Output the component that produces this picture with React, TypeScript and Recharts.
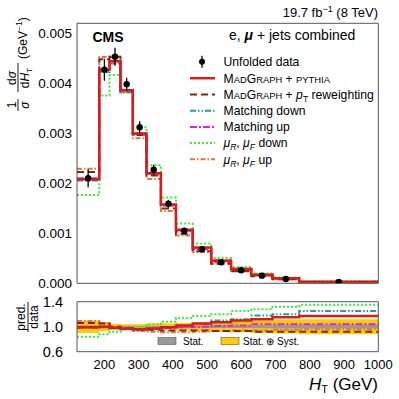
import React from 'react';
import { ComposedChart, Line, Area, Scatter, XAxis, YAxis, ErrorBar } from 'recharts';

// ---------- data ----------
const binEdges = [120, 185, 215, 247, 283, 323, 365, 409, 458, 512, 570, 629, 691, 769, 1000];
const dataValues = [0.0021, 0.00427, 0.00453, 0.00398, 0.00312, 0.00227, 0.00159, 0.00105, 0.00068, 0.00042, 0.00026, 0.000153, 0.000086, 0.000026];
const dataErrors = [0.00018, 0.00022, 0.00018, 0.00013, 0.00012, 0.0001, 0.00008, 0.00006, 0.00004, 0.00003, 0.00002, 0.000015, 0.00001, 0.000005];

// pred./data ratios
const ratioMadgraph = [0.99, 1.0, 0.98, 0.97, 0.96, 0.97, 0.99, 1.02, 1.05, 1.07, 1.1, 1.12, 1.15, 1.17];
const ratioPtReweight = [1.06, 1.05, 1.0, 0.97, 0.95, 0.95, 0.94, 0.94, 0.94, 0.93, 0.93, 0.92, 0.92, 0.92];
const ratioMatchDown = [0.98, 0.99, 0.97, 0.96, 0.95, 0.96, 0.98, 1.0, 1.04, 1.1, 1.12, 1.18, 1.2, 1.25];
const ratioMatchUp = [1.0, 1.0, 0.98, 0.97, 0.96, 0.97, 0.98, 0.99, 1.0, 1.01, 1.02, 1.04, 1.04, 1.04];
const ratioScaleDown = [0.84, 0.88, 0.92, 0.96, 1.0, 1.04, 1.08, 1.14, 1.17, 1.2, 1.25, 1.28, 1.32, 1.35];
const ratioScaleUp = [1.09, 1.06, 1.0, 0.96, 0.93, 0.92, 0.91, 0.91, 0.92, 0.93, 0.94, 0.94, 0.95, 0.96];

const statUnc = [0.02, 0.015, 0.012, 0.01, 0.01, 0.01, 0.012, 0.015, 0.015, 0.02, 0.02, 0.025, 0.03, 0.03];
const totalUnc = [0.1, 0.07, 0.045, 0.04, 0.04, 0.05, 0.05, 0.06, 0.07, 0.08, 0.09, 0.1, 0.11, 0.12];

// ticks
const xMajorTicks = [200, 300, 400, 500, 600, 700, 800, 900, 1000];
const xMinorTicks = Array.from({ length: 45 }, (_, i) => 120 + i * 20);
const topYMajorTicks = [0, 0.001, 0.002, 0.003, 0.004, 0.005];
const topYMinorTicks = Array.from({ length: 27 }, (_, i) => +(i * 0.0002).toFixed(4));
const ratioYLabelTicks = [0.6, 1.0, 1.4];
const ratioYMajorTicks = [0.6, 0.8, 1.0, 1.2, 1.4];
const ratioYMinorTicks = Array.from({ length: 17 }, (_, i) => +(0.6 + i * 0.05).toFixed(2));

// ---------- derived tables ----------
const nBins = dataValues.length;
const series = [
  { key: 'scaleDown', ratio: ratioScaleDown, color: '#33ee33', dash: '2 2', width: 2 },
  { key: 'scaleUp', ratio: ratioScaleUp, color: '#e3743a', dash: '5 2 1.5 2', width: 2 },
  { key: 'matchDown', ratio: ratioMatchDown, color: '#1f9ea3', dash: '6 2 1.5 2 1.5 2', width: 2 },
  { key: 'matchUp', ratio: ratioMatchUp, color: '#e020e0', dash: '7 2 2 2', width: 2 },
  { key: 'ptReweight', ratio: ratioPtReweight, color: '#7a2a18', dash: '7 4', width: 2 },
  { key: 'madgraph', ratio: ratioMadgraph, color: '#e01818', dash: undefined, width: 2.5 },
];

const topRows = binEdges.map((x, i) => {
  const k = Math.min(i, nBins - 1);
  const row: Record<string, number> = { x };
  series.forEach((s) => {
    row[s.key] = dataValues[k] * s.ratio[k];
  });
  return row;
});

const ratioRows = binEdges.map((x, i) => {
  const k = Math.min(i, nBins - 1);
  const row: Record<string, any> = { x };
  series.forEach((s) => {
    row[s.key] = s.ratio[k];
  });
  row.stat = [1 - statUnc[k], 1 + statUnc[k]];
  row.total = [1 - totalUnc[k], 1 + totalUnc[k]];
  return row;
});

const points = dataValues.map((v, i) => ({
  x: (binEdges[i] + binEdges[i + 1]) / 2,
  y: v,
  err: dataErrors[i],
}));

const FONT = "'Liberation Sans', Arial, Helvetica, sans-serif";
const AXIS = '#555';

const Dot = (p: any) => <circle cx={p.cx} cy={p.cy} r={3.2} fill="#000" />;

function frameAxes(xDomain: number[], yDomain: number[], yMajor: number[], yMinor: number[], big: number, small: number) {
  const common = { type: 'number' as const, allowDataOverflow: true, tick: false as const, mirror: true };
  return [
    <XAxis key="xb" xAxisId="xb" dataKey="x" orientation="bottom" domain={xDomain} ticks={xMajorTicks} tickSize={big} axisLine={{ stroke: AXIS }} tickLine={{ stroke: AXIS }} {...common} />,
    <XAxis key="xbm" xAxisId="xbm" dataKey="x" orientation="bottom" domain={xDomain} ticks={xMinorTicks} tickSize={small} axisLine={false} tickLine={{ stroke: AXIS }} {...common} />,
    <XAxis key="xt" xAxisId="xt" dataKey="x" orientation="top" domain={xDomain} ticks={xMajorTicks} tickSize={big} axisLine={{ stroke: AXIS }} tickLine={{ stroke: AXIS }} {...common} />,
    <XAxis key="xtm" xAxisId="xtm" dataKey="x" orientation="top" domain={xDomain} ticks={xMinorTicks} tickSize={small} axisLine={false} tickLine={{ stroke: AXIS }} {...common} />,
    <YAxis key="yl" yAxisId="yl" orientation="left" domain={yDomain} ticks={yMajor} tickSize={big} axisLine={{ stroke: AXIS }} tickLine={{ stroke: AXIS }} {...common} />,
    <YAxis key="ylm" yAxisId="ylm" orientation="left" domain={yDomain} ticks={yMinor} tickSize={small} axisLine={false} tickLine={{ stroke: AXIS }} {...common} />,
    <YAxis key="yr" yAxisId="yr" orientation="right" domain={yDomain} ticks={yMajor} tickSize={big} axisLine={{ stroke: AXIS }} tickLine={{ stroke: AXIS }} {...common} />,
    <YAxis key="yrm" yAxisId="yrm" orientation="right" domain={yDomain} ticks={yMinor} tickSize={small} axisLine={false} tickLine={{ stroke: AXIS }} {...common} />,
  ];
}

const legendRows = [
  { y: 61.7, kind: 'data' },
  { y: 78.2, kind: 'madgraph' },
  { y: 94.5, kind: 'ptReweight' },
  { y: 110.7, kind: 'matchDown' },
  { y: 126.9, kind: 'matchUp' },
  { y: 143.1, kind: 'scaleDown' },
  { y: 159.3, kind: 'scaleUp' },
];

function legendLabel(kind: string, y: number) {
  const x = 223.5;
  const fs = 12.2;
  const sc = 9.4;
  const base = y + 4.3;
  switch (kind) {
    case 'data':
      return <text x={x} y={base} fontSize={fs}>Unfolded data</text>;
    case 'madgraph':
      return (
        <text x={x} y={base} fontSize={fs}>
          M<tspan fontSize={sc}>AD</tspan>G<tspan fontSize={sc}>RAPH</tspan> + <tspan fontSize={sc}>PYTHIA</tspan>
        </text>
      );
    case 'ptReweight':
      return (
        <text x={x} y={base} fontSize={fs}>
          M<tspan fontSize={sc}>AD</tspan>G<tspan fontSize={sc}>RAPH</tspan> + <tspan fontStyle="italic">p</tspan>
          <tspan fontSize={8.5} dy={3}>T</tspan>
          <tspan dy={-3}> reweighting</tspan>
        </text>
      );
    case 'matchDown':
      return <text x={x} y={base} fontSize={fs}>Matching down</text>;
    case 'matchUp':
      return <text x={x} y={base} fontSize={fs}>Matching up</text>;
    default: {
      const word = kind === 'scaleDown' ? ' down' : ' up';
      return (
        <text x={x} y={base} fontSize={fs}>
          <tspan fontStyle="italic">μ</tspan>
          <tspan fontSize={8.5} dy={3} fontStyle="italic">R</tspan>
          <tspan dy={-3}>, </tspan>
          <tspan fontStyle="italic">μ</tspan>
          <tspan fontSize={8.5} dy={3} fontStyle="italic">F</tspan>
          <tspan dy={-3}>{word}</tspan>
        </text>
      );
    }
  }
}

export default function App() {
  const sMap: Record<string, (typeof series)[number]> = {};
  series.forEach((s) => (sMap[s.key] = s));

  return (
    <div style={{ position: 'absolute', left: 0, top: 0, width: 399, height: 399, background: '#fff', fontFamily: FONT }}>
      {/* upper panel */}
      <div style={{ position: 'absolute', left: 0, top: 0 }}>
        <ComposedChart width={399} height={290} data={topRows} margin={{ top: 23.3, right: 20.7, bottom: 6.7, left: 0 }}>
          <YAxis
            yAxisId="y"
            type="number"
            domain={[0, 0.0052]}
            allowDataOverflow
            width={77}
            ticks={topYMajorTicks}
            interval={0}
            tickFormatter={(v: number) => v.toFixed(3)}
            tickLine={false}
            axisLine={false}
            tickSize={3}
            tickMargin={2}
            tick={{ fontSize: 13.5, fill: '#000', fontFamily: FONT }}
          />
          {frameAxes([120, 1000], [0, 0.0052], topYMajorTicks, topYMinorTicks, 7, 4)}
          {series.map((s) => (
            <Line
              key={s.key}
              xAxisId="xb"
              yAxisId="y"
              dataKey={s.key}
              type="stepAfter"
              stroke={s.color}
              strokeWidth={s.width}
              strokeDasharray={s.dash}
              dot={false}
              activeDot={false}
              isAnimationActive={false}
            />
          ))}
          <Scatter xAxisId="xb" yAxisId="y" data={points} dataKey="y" shape={Dot} isAnimationActive={false}>
            <ErrorBar dataKey="err" direction="y" width={0} stroke="#000" strokeWidth={1.3} />
          </Scatter>
        </ComposedChart>
      </div>

      {/* ratio panel */}
      <div style={{ position: 'absolute', left: 0, top: 290 }}>
        <ComposedChart width={399} height={109} data={ratioRows} margin={{ top: 11.7, right: 20.7, bottom: 17.3, left: 0 }}>
          <XAxis
            xAxisId="xl"
            dataKey="x"
            type="number"
            domain={[120, 1000]}
            allowDataOverflow
            height={30}
            ticks={xMajorTicks}
            interval={0}
            tickLine={false}
            axisLine={false}
            tickSize={6}
            tickMargin={2}
            tick={{ fontSize: 13, fill: '#000', fontFamily: FONT }}
          />
          <YAxis
            yAxisId="y"
            type="number"
            domain={[0.6, 1.4]}
            allowDataOverflow
            width={77}
            ticks={ratioYLabelTicks}
            interval={0}
            tickFormatter={(v: number) => v.toFixed(1)}
            tickLine={false}
            axisLine={false}
            tickSize={3}
            tickMargin={11}
            tick={{ fontSize: 14.5, fill: '#000', fontFamily: FONT }}
          />
          {frameAxes([120, 1000], [0.6, 1.4], ratioYMajorTicks, ratioYMinorTicks, 6, 3)}
          <Area xAxisId="xl" yAxisId="y" dataKey="total" type="stepAfter" fill="#ffcc00" fillOpacity={1} stroke="none" isAnimationActive={false} />
          <Area xAxisId="xl" yAxisId="y" dataKey="stat" type="stepAfter" fill="#999999" fillOpacity={1} stroke="none" isAnimationActive={false} />
          {series.map((s) => (
            <Line
              key={s.key}
              xAxisId="xl"
              yAxisId="y"
              dataKey={s.key}
              type="stepAfter"
              stroke={s.color}
              strokeWidth={s.width}
              strokeDasharray={s.dash}
              dot={false}
              activeDot={false}
              isAnimationActive={false}
            />
          ))}
        </ComposedChart>
      </div>

      {/* text overlay */}
      <svg width={399} height={399} style={{ position: 'absolute', left: 0, top: 0, pointerEvents: 'none', fontFamily: FONT }}>
        <text x={378} y={17} textAnchor="end" fontSize={13}>
          19.7 fb<tspan fontSize={9} dy={-5}>−1</tspan>
          <tspan dy={5}> (8 TeV)</tspan>
        </text>
        <text x={92.5} y={41.5} fontSize={14} fontWeight="bold">CMS</text>
        <text x={229} y={39.5} fontSize={14}>
          e, <tspan fontStyle="italic" fontWeight="bold">μ</tspan> + jets combined
        </text>

        {legendRows.map((r) => {
          const s = sMap[r.kind];
          return (
            <g key={r.kind}>
              {r.kind === 'data' ? (
                <g>
                  <line x1={202} x2={202} y1={r.y - 6} y2={r.y + 6} stroke="#000" strokeWidth={1.3} />
                  <circle cx={202} cy={r.y} r={3} fill="#000" />
                </g>
              ) : (
                <line x1={190} x2={215} y1={r.y} y2={r.y} stroke={s.color} strokeWidth={s.width} strokeDasharray={s.dash} />
              )}
              {legendLabel(r.kind, r.y)}
            </g>
          );
        })}

        {/* y title upper */}
        <g transform="translate(18,112) rotate(-90)" fontSize={12}>
          <text x={7} y={-2.5} textAnchor="middle">1</text>
          <line x1={1} x2={13} y1={0} y2={0} stroke="#000" strokeWidth={0.9} />
          <text x={7} y={11} textAnchor="middle" fontStyle="italic">σ</text>
          <text x={34} y={-2.5} textAnchor="middle">d<tspan fontStyle="italic">σ</tspan></text>
          <line x1={20} x2={49} y1={0} y2={0} stroke="#000" strokeWidth={0.9} />
          <text x={34} y={11} textAnchor="middle">
            d<tspan fontStyle="italic">H</tspan>
            <tspan fontSize={8} dy={2.5}>T</tspan>
          </text>
          <text x={53} y={9} fontSize={12}>
            (GeV<tspan fontSize={8.5} dy={-5}>−1</tspan>
            <tspan dy={5}>)</tspan>
          </text>
        </g>

        {/* ratio y title */}
        <g transform="translate(28,317) rotate(-90)" fontSize={12}>
          <text x={0} y={-3} textAnchor="middle">pred.</text>
          <line x1={-15} x2={15} y1={0} y2={0} stroke="#000" strokeWidth={0.9} />
          <text x={0} y={10} textAnchor="middle">data</text>
        </g>

        {/* x title */}
        <text x={378} y={390} textAnchor="end" fontSize={17}>
          <tspan fontStyle="italic">H</tspan>
          <tspan fontSize={11} dy={3}>T</tspan>
          <tspan dy={-3}> (GeV)</tspan>
        </text>

        {/* ratio legend */}
        <rect x={158} y={337.5} width={18} height={7} fill="#999999" stroke="#555" strokeWidth={0.6} />
        <text x={183} y={344.5} fontSize={10}>Stat.</text>
        <rect x={221} y={337.5} width={18} height={7} fill="#ffcc00" stroke="#555" strokeWidth={0.6} />
        <text x={243} y={344.5} fontSize={10}>Stat. ⊕ Syst.</text>
      </svg>
    </div>
  );
}
